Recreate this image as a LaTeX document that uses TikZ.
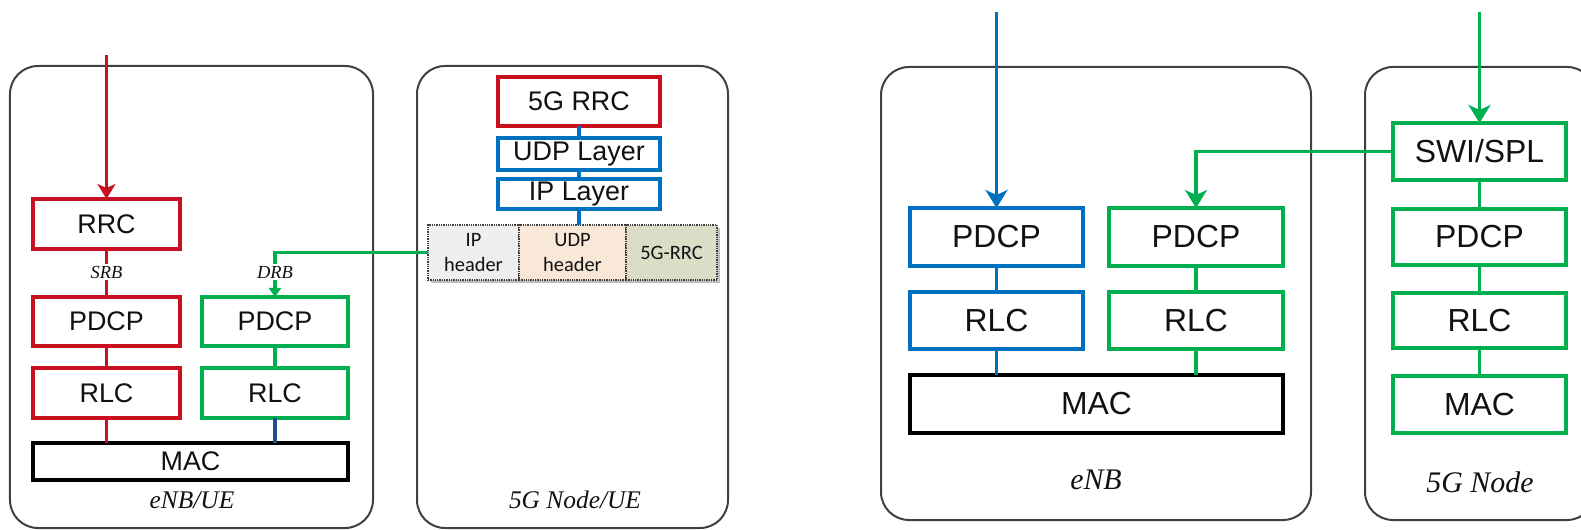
\documentclass[tikz,border=0pt]{standalone}
\usepackage{fontspec}
\setmainfont{Liberation Serif}
\newfontfamily\arialf{Liberation Sans}
\newfontfamily\calibf{Carlito}
\usetikzlibrary{arrows.meta,shadows}
\definecolor{cred}{HTML}{C8101E}
\definecolor{cblue}{HTML}{0070C0}
\definecolor{cgreen}{HTML}{00B050}
\definecolor{cdblue}{HTML}{1F4E8C}
\definecolor{cframe}{HTML}{404040}
\definecolor{ctxt}{HTML}{111111}
\definecolor{fip}{HTML}{EFEFEF}
\definecolor{fudp}{HTML}{F9E7D8}
\definecolor{frrc}{HTML}{DCDDC6}
\begin{document}
\begin{tikzpicture}[x=1bp,y=-1bp,
  every node/.style={inner sep=0pt, outer sep=0pt},
  panel/.style={draw=cframe, line width=2bp, rounded corners=28bp},
  layerL/.style={draw, fill=white, line width=3.6bp, text=ctxt, font=\arialf\fontsize{27}{28}\selectfont},
  layerR/.style={draw, fill=white, line width=4bp, text=ctxt, font=\arialf\fontsize{32}{34}\selectfont},
  hdr/.style={draw=black!75, densely dotted, line width=1.3bp, text=ctxt, align=center,
     font=\calibf\fontsize{20.5}{25}\selectfont, minimum height=55bp,
     drop shadow={shadow xshift=3bp, shadow yshift=-3bp, fill=black, opacity=0.25}},
  capS/.style={text=ctxt, font=\itshape\fontsize{25.5}{27}\selectfont},
  capB/.style={text=ctxt, font=\itshape\fontsize{30}{32}\selectfont},
  brl/.style={fill=white, text=ctxt, inner sep=2bp, font=\itshape\fontsize{18.5}{20}\selectfont},
  conn/.style={line width=3.6bp},
  arrL/.style={line width=3.6bp, -{Stealth[length=15bp,width=18bp,inset=4bp]}},
  arrR/.style={line width=3.6bp, -{Stealth[length=18bp,width=22bp,inset=5bp]}},
  arrS/.style={line width=3.6bp, -{Triangle[length=9bp,width=12bp]}}
]
\useasboundingbox (0,0) rectangle (1581,530);

% ---------- panels ----------
\node[panel, minimum width=363bp, minimum height=462bp] (panA) at (191.5,297) {};
\node[panel, minimum width=311bp, minimum height=462bp] (panB) at (572.5,297) {};
\node[panel, minimum width=430bp, minimum height=453bp] (panC) at (1096,293.5) {};
\node[panel, minimum width=230bp, minimum height=453bp] (panD) at (1480,293.5) {};

% ---------- left panel: eNB/UE ----------
\node[layerL, draw=cred, minimum width=147bp, minimum height=50bp] (rrcA) at (106.5,224) {RRC};
\node[layerL, draw=cred, minimum width=147bp, minimum height=49bp] (pdcpA) at (106.5,321.5) {PDCP};
\node[layerL, draw=cred, minimum width=147bp, minimum height=50bp] (rlcA) at (106.5,393) {RLC};
\node[layerL, draw=cgreen, minimum width=146bp, minimum height=49bp] (pdcpB) at (275,321.5) {PDCP};
\node[layerL, draw=cgreen, minimum width=146bp, minimum height=50bp] (rlcB) at (275,393) {RLC};
\node[layerL, draw=black, line width=4bp, minimum width=315bp, minimum height=37bp] (macA) at (190.5,461.5) {MAC};
\node[capS] (lblA) at (192,500) {eNB/UE};

\coordinate (inA) at (106.5,55);
\draw[arrL, cred] (inA) -- (rrcA.north);
\draw[conn, cred] (rrcA.south) -- (pdcpA.north);
\node[brl] (srb) at (106.5,272) {SRB};
\draw[conn, cred] (pdcpA.south) -- (rlcA.north);
\draw[conn, cred] (rlcA.south) -- (rlcA.south |- macA.north);
\draw[conn, cgreen] (pdcpB.south) -- (rlcB.north);
\draw[conn, cdblue] (rlcB.south) -- (rlcB.south |- macA.north);

% ---------- middle panel: 5G Node/UE ----------
\node[layerL, draw=cred, minimum width=162bp, minimum height=49bp] (rrcG) at (579,101.5) {5G RRC};
\node[layerL, draw=cblue, minimum width=162bp, minimum height=32bp] (udpL) at (579,154) {UDP Layer};
\node[layerL, draw=cblue, minimum width=162bp, minimum height=30bp] (ipL) at (579,194) {IP Layer};
\node[hdr, fill=fip, minimum width=91bp] (hIP) at (473.5,252.5) {IP\\header};
\node[hdr, fill=fudp, minimum width=107bp] (hUDP) at (572.5,252.5) {UDP\\header};
\node[hdr, fill=frrc, minimum width=91bp] (hRRC) at (671.5,252.5) {5G-RRC};
\node[capS] (lblB) at (575,500) {5G Node/UE};

\draw[conn, cblue] (rrcG.south) -- (udpL.north);
\draw[conn, cblue] (udpL.south) -- (ipL.north);
\draw[conn, cblue] (ipL.south) -- (ipL.south |- hUDP.north);

\draw[arrS, cgreen] (hIP.west) -- (hIP.west -| pdcpB.north) -- (pdcpB.north);
\node[brl] (drb) at (275,272) {DRB};

% ---------- right: eNB ----------
\node[layerR, draw=cblue, minimum width=173bp, minimum height=58bp] (pdcpC) at (996.5,237) {PDCP};
\node[layerR, draw=cblue, minimum width=173bp, minimum height=57bp] (rlcC) at (996.5,320.5) {RLC};
\node[layerR, draw=cgreen, minimum width=174bp, minimum height=58bp] (pdcpD) at (1196,237) {PDCP};
\node[layerR, draw=cgreen, minimum width=174bp, minimum height=57bp] (rlcD) at (1196,320.5) {RLC};
\node[layerR, draw=black, minimum width=373bp, minimum height=58bp] (macC) at (1096.5,404) {MAC};
\node[capB] (lblC) at (1096,480) {eNB};

\coordinate (inC) at (996.5,12);
\draw[arrR, cblue] (inC) -- (pdcpC.north);
\draw[conn, cblue] (pdcpC.south) -- (rlcC.north);
\draw[conn, cblue] (rlcC.south) -- (rlcC.south |- macC.north);
\draw[conn, cgreen] (pdcpD.south) -- (rlcD.north);
\draw[conn, cgreen] (rlcD.south) -- (rlcD.south |- macC.north);

% ---------- right: 5G Node ----------
\node[layerR, draw=cgreen, minimum width=173bp, minimum height=57bp] (swi) at (1479.5,151.5) {SWI/SPL};
\node[layerR, draw=cgreen, minimum width=173bp, minimum height=56bp] (pdcpE) at (1479.5,237) {PDCP};
\node[layerR, draw=cgreen, minimum width=173bp, minimum height=55bp] (rlcE) at (1479.5,320.5) {RLC};
\node[layerR, draw=cgreen, minimum width=173bp, minimum height=57bp] (macE) at (1479.5,404.5) {MAC};
\node[capB] (lblD) at (1480,482) {5G Node};

\coordinate (inE) at (1479.5,12);
\draw[arrR, cgreen] (inE) -- (swi.north);
\draw[conn, cgreen] (swi.south) -- (pdcpE.north);
\draw[conn, cgreen] (pdcpE.south) -- (rlcE.north);
\draw[conn, cgreen] (rlcE.south) -- (macE.north);
\draw[arrR, cgreen] (swi.west) -- (swi.west -| pdcpD.north) -- (pdcpD.north);
\end{tikzpicture}
\end{document}
